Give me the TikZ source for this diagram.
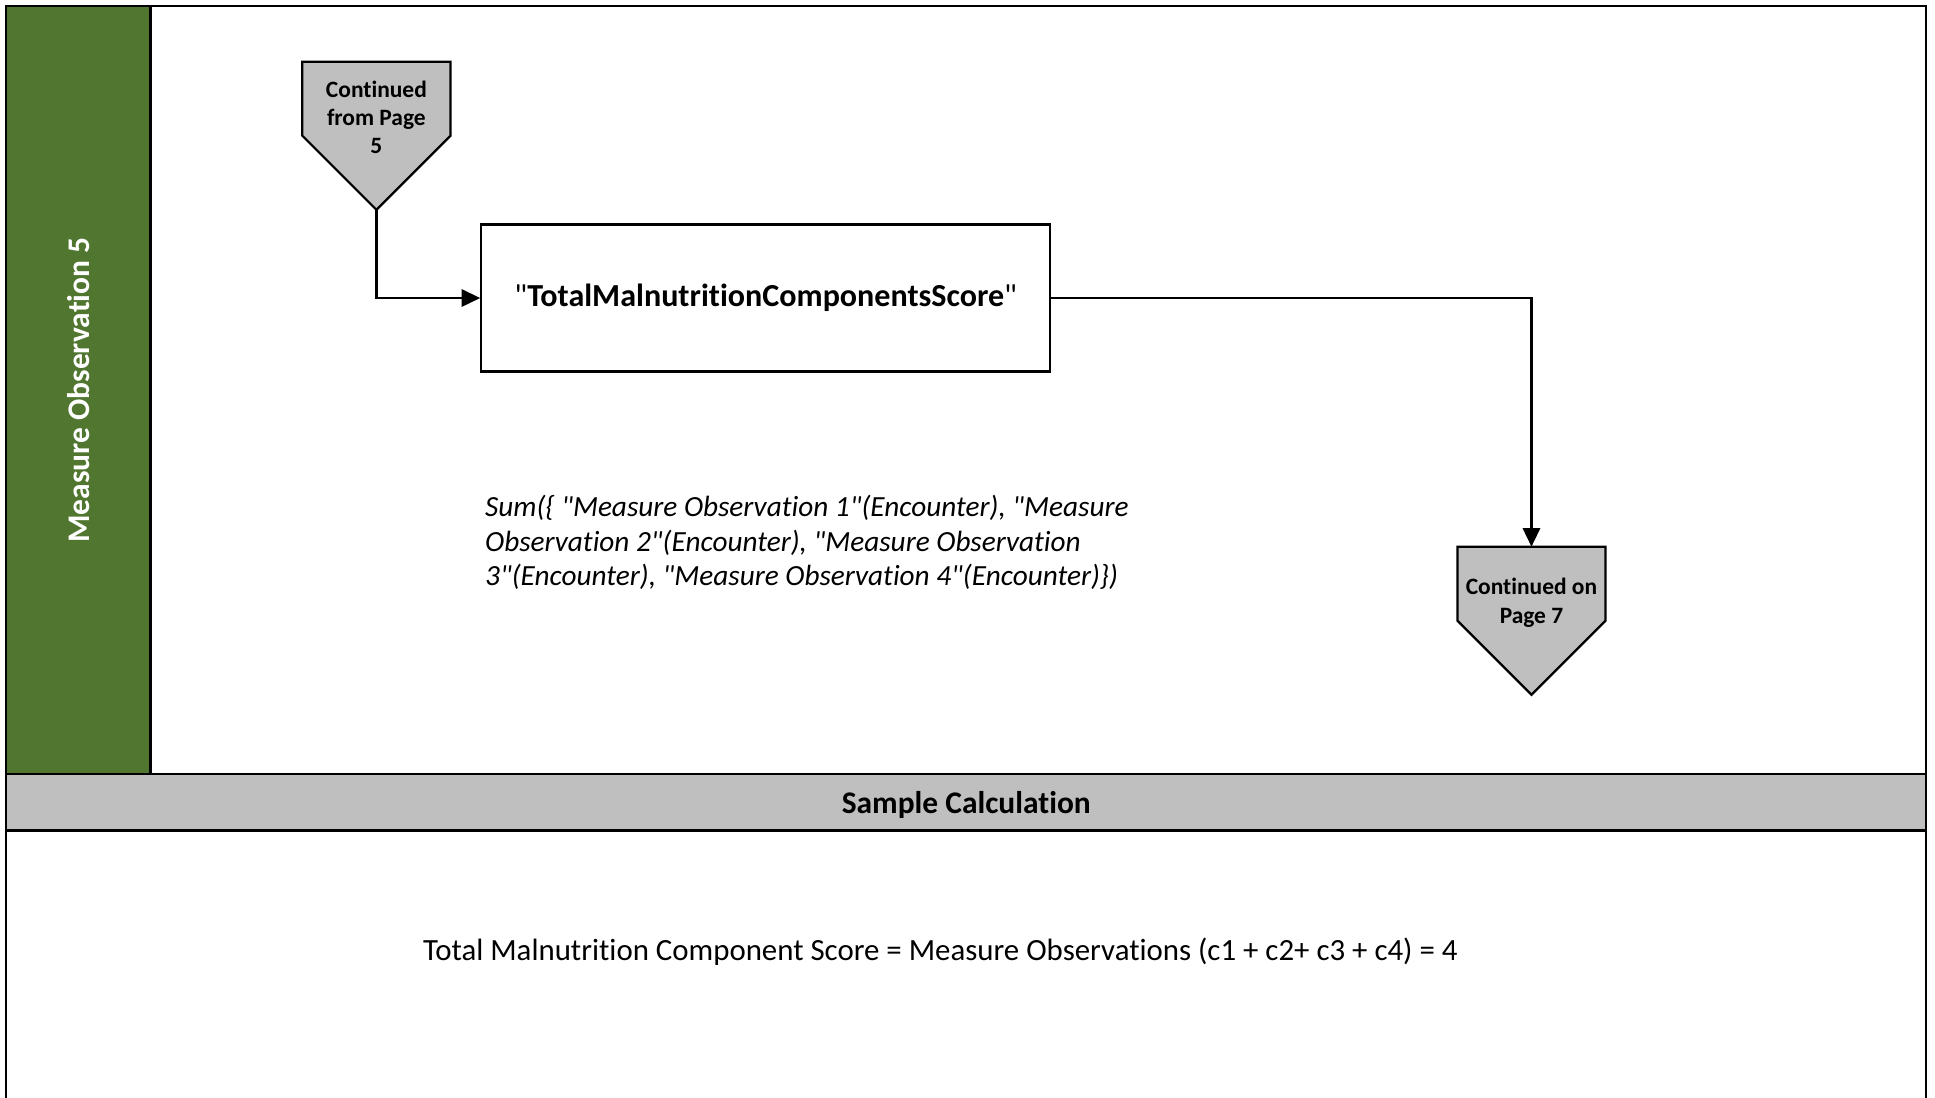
\documentclass[tikz,border=0pt]{standalone}
\usepackage{fontspec}
\setmainfont{Carlito}[Ligatures={TeXOff,NoCommon}]
\usetikzlibrary{arrows.meta}
\definecolor{bandgreen}{RGB}{80,118,48}
\definecolor{shadegray}{RGB}{191,191,191}
\tikzset{
  frame/.style={draw=black, line width=1.8pt},
  offpage/.style={draw=black, fill=shadegray, line width=1.8pt, line join=miter},
  conn/.style={draw=black, line width=1.8pt, -{Triangle[length=15pt,width=14pt]}},
  proc/.style={draw=black, line width=1.8pt, minimum width=461pt, minimum height=119pt, inner sep=0pt},
  offtext/.style={font=\fontsize{19}{23}\selectfont\bfseries, align=center, inner sep=0pt},
}
\begin{document}
\begin{tikzpicture}[x=1pt,y=-1pt]
\useasboundingbox (0,0) rectangle (1568,889);
% panels
\fill[bandgreen] (5,5) rectangle (122,627);
\fill[shadegray] (5,627) rectangle (1561,673);
\draw[frame] (5,895) -- (5,5) -- (1561,5) -- (1561,895);
\draw[frame] (122,5) -- (122,627);
\draw[frame] (5,627) -- (1561,627);
\draw[frame] (5,673) -- (1561,673);
\node[font=\fontsize{25.5}{30}\selectfont\bfseries, text=white, rotate=90] (lane) at (64,316) {Measure Observation 5};
\node[font=\fontsize{25.5}{30}\selectfont\bfseries] (sc) at (783,652) {Sample Calculation};
\node[font=\fontsize{25}{30}\selectfont] (formula) at (762,771) {Total Malnutrition Component Score = Measure Observations (c1 + c2+ c3 + c4) = 4};
% off-page connector from page 5
\draw[offpage] (245,50) -- (365,50) -- (365,110) -- (305,170) -- (245,110) -- cycle;
\coordinate (fromtip) at (305,170);
\node[offtext] (from) at (305,95) {Continued\\from Page\\5};
% process box
\node[proc] (box) at (620.5,241.5) {\fontsize{26}{30}\selectfont"\textbf{TotalMalnutritionComponentsScore}"};
% off-page connector to page 7
\draw[offpage] (1181,443) -- (1301,443) -- (1301,503) -- (1241,563) -- (1181,503) -- cycle;
\coordinate (totop) at (1241,443);
\node[offtext] (to) at (1241,488.5) {Continued on\\Page 7};
% connectors
\draw[conn] (fromtip) |- (box.west);
\draw[conn] (box.east) -| (totop);
% expression
\node[font=\fontsize{23.7}{28}\selectfont\itshape, align=left, anchor=north west, inner sep=0pt] (expr) at (393,401) {Sum(\{ "Measure Observation 1"(Encounter), "Measure\\Observation 2"(Encounter), "Measure Observation\\3"(Encounter), "Measure Observation 4"(Encounter)\})};
\end{tikzpicture}
\end{document}
